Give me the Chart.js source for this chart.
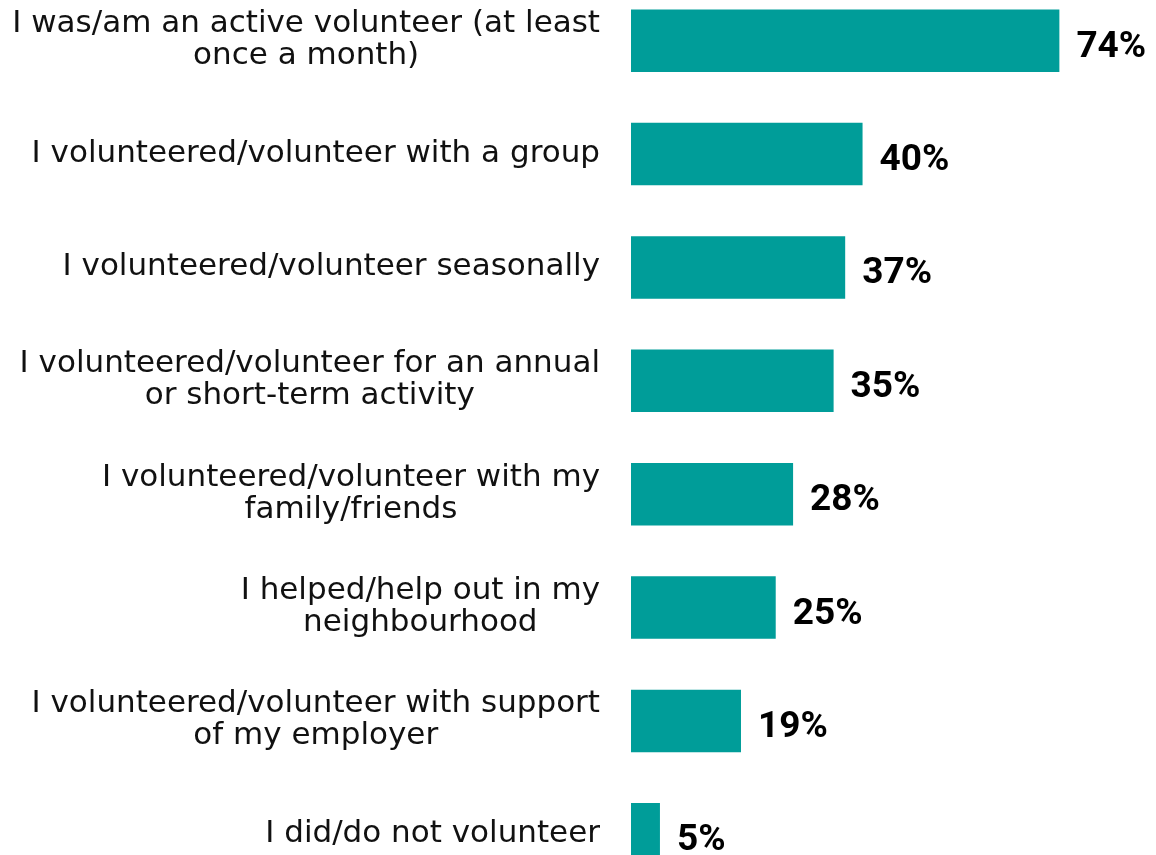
<!DOCTYPE html>
<html>
<head>
<meta charset="utf-8">
<title>Volunteering</title>
<script src="https://cdn.jsdelivr.net/npm/chart.js@4.4.1/dist/chart.umd.min.js"></script>
<style>
  html, body { margin: 0; padding: 0; background: #fff; overflow: hidden; }
  #wrap { position: absolute; left: 0; top: -16px; width: 1156px; height: 907px; }
</style>
</head>
<body>
<div id="wrap"><canvas id="volunteerChart"></canvas></div>
<script>
// Category labels, one array entry per printed line
var categories = [
  ['I was/am an active volunteer (at least', 'once a month)'],
  ['I volunteered/volunteer with a group'],
  ['I volunteered/volunteer seasonally'],
  ['I volunteered/volunteer for an annual', 'or short-term activity'],
  ['I volunteered/volunteer with my', 'family/friends'],
  ['I helped/help out in my', 'neighbourhood'],
  ['I volunteered/volunteer with support', 'of my employer'],
  ['I did/do not volunteer']
];
var shares = [74, 40, 37, 35, 28, 25, 19, 5];

var BAR_COLOR = '#009d99';
var LABEL_FONT = '31px "DejaVu Sans", sans-serif';
var VALUE_FONT = 'bold 37px Roboto, "DejaVu Sans", sans-serif';
var LABEL_RIGHT = 600;
var LINE_HEIGHT = 32;

// Left-hand category text: each block right-aligned, lines centred within it
var categoryLabels = {
  id: 'categoryLabels',
  afterDraw: function(chart) {
    var ctx = chart.ctx;
    var yScale = chart.scales.y;
    ctx.save();
    ctx.font = LABEL_FONT;
    ctx.fillStyle = '#111';
    ctx.textAlign = 'center';
    ctx.textBaseline = 'alphabetic';
    categories.forEach(function(lines, i) {
      var center = yScale.getPixelForValue(i);
      var widest = 0;
      lines.forEach(function(line) {
        widest = Math.max(widest, ctx.measureText(line).width);
      });
      var cx = LABEL_RIGHT - widest / 2;
      lines.forEach(function(line, j) {
        var y = center + 7.5 + (j - (lines.length - 1) / 2) * LINE_HEIGHT;
        ctx.fillText(line, cx, y);
      });
    });
    ctx.restore();
  }
};

// Bold percentage after the end of each bar
var valueLabels = {
  id: 'valueLabels',
  afterDatasetsDraw: function(chart) {
    var ctx = chart.ctx;
    var meta = chart.getDatasetMeta(0);
    ctx.save();
    ctx.font = VALUE_FONT;
    ctx.fillStyle = '#000';
    ctx.textAlign = 'left';
    ctx.textBaseline = 'alphabetic';
    meta.data.forEach(function(bar, i) {
      ctx.fillText(shares[i] + '%', bar.x + 17, bar.y + 16);
    });
    ctx.restore();
  }
};

new Chart(document.getElementById('volunteerChart'), {
  type: 'bar',
  data: {
    labels: categories,
    datasets: [{
      data: shares,
      backgroundColor: BAR_COLOR,
      borderWidth: 0,
      categoryPercentage: 1,
      barPercentage: 0.551
    }]
  },
  options: {
    indexAxis: 'y',
    responsive: true,
    maintainAspectRatio: false,
    animation: false,
    layout: {
      padding: { left: 631, right: 4, top: 0, bottom: 0 }
    },
    plugins: {
      legend: { display: false },
      tooltip: { enabled: false }
    },
    scales: {
      x: {
        display: false,
        min: 0,
        max: 90
      },
      y: {
        display: false
      }
    }
  },
  plugins: [categoryLabels, valueLabels]
});
</script>
</body>
</html>
